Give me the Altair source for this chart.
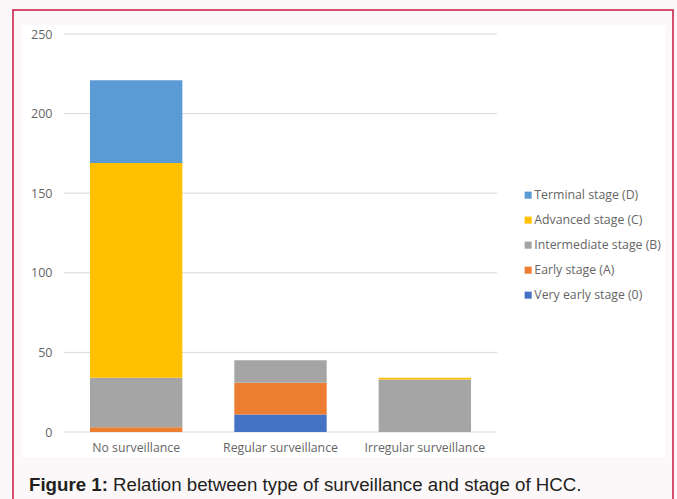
import altair as alt
import pandas as pd

categories = ["No surveillance", "Regular surveillance", "Irregular surveillance"]
stages = ["Terminal stage (D)", "Advanced stage (C)", "Intermediate stage (B)",
          "Early stage (A)", "Very early stage (0)"]
stage_colors = ["#5B9BD5", "#FFC000", "#A5A5A5", "#ED7D31", "#4472C4"]

very_early = [0, 11, 0]
early = [3, 20, 0]
intermediate = [31, 14, 33]
advanced = [135, 0, 1]
terminal = [52, 0, 0]

y_ticks = [0, 50, 100, 150, 200, 250]
caption_bold = "Figure 1:"
caption_text = "Relation between type of surveillance and stage of HCC."

series = {
    "Very early stage (0)": very_early,
    "Early stage (A)": early,
    "Intermediate stage (B)": intermediate,
    "Advanced stage (C)": advanced,
    "Terminal stage (D)": terminal,
}
rows = []
for idx, (stage, vals) in enumerate(series.items()):
    for cat, v in zip(categories, vals):
        rows.append({"category": cat, "stage": stage, "value": v, "order": idx})
df = pd.DataFrame(rows)
one = pd.DataFrame([{"k": 1}])
grid_df = pd.DataFrame({"tick": y_ticks})

W, H = 433, 398
yscale = alt.Scale(domain=[0, 250], nice=False)
label_color = "#666666"

bg = alt.Chart(one).mark_rect(color="white").encode(
    x=alt.value(-42), x2=alt.value(601), y=alt.value(-9), y2=alt.value(423))

border = alt.Chart(one).mark_rect(filled=False, stroke="#c8173f", strokeWidth=1.5).encode(
    x=alt.value(-51), x2=alt.value(609), y=alt.value(-24), y2=alt.value(480))

grid = alt.Chart(grid_df).mark_rule(color="#d9d9d9", strokeWidth=1).encode(
    y=alt.Y("tick:Q", scale=yscale), x=alt.value(0), x2=alt.value(W))

bars = alt.Chart(df).transform_filter("datum.value > 0").mark_bar().encode(
    x=alt.X("category:N", sort=categories, title=None,
            scale=alt.Scale(paddingInner=0.36, paddingOuter=0.18),
            axis=alt.Axis(labelAngle=0, ticks=False, domain=False, labelPadding=9,
                          labelColor=label_color, labelFontSize=12.3, labelFont="Open Sans",
                          zindex=1)),
    y=alt.Y("value:Q", stack="zero", title=None, scale=yscale,
            axis=alt.Axis(values=y_ticks, ticks=False, domain=False, labelPadding=12,
                          grid=False, labelColor=label_color,
                          labelFontSize=12.5, labelFont="Open Sans", zindex=1)),
    color=alt.Color("stage:N", sort=stages,
                    scale=alt.Scale(domain=stages, range=stage_colors),
                    legend=alt.Legend(title=None, orient="none", legendX=458, legendY=155,
                                      symbolType="square", symbolSize=50, symbolStrokeWidth=0,
                                      labelFontSize=12.3, labelFont="Open Sans",
                                      labelColor=label_color, rowPadding=12, labelOffset=0)),
    order=alt.Order("order:Q", sort="ascending"),
)

cap1 = alt.Chart(one).mark_text(text=caption_bold, font="Liberation Sans", fontWeight="bold",
                                fontSize=18.7, align="left", baseline="alphabetic",
                                color="#231f20").encode(
    x=alt.value(-35), y=alt.value(457))
cap2 = alt.Chart(one).mark_text(text=caption_text, font="Liberation Sans",
                                fontSize=18.7, align="left", baseline="alphabetic",
                                color="#231f20").encode(
    x=alt.value(49), y=alt.value(457))

chart = alt.layer(bg, border, grid, bars, cap1, cap2).properties(
    width=W, height=H,
    autosize=alt.AutoSizeParams(type="none"),
    padding={"left": 64, "top": 34, "right": 180, "bottom": 67},
    background="#fcf8f9",
).configure_view(stroke=None)

chart.save("out.html", embed_options={"renderer": "svg", "actions": False})
